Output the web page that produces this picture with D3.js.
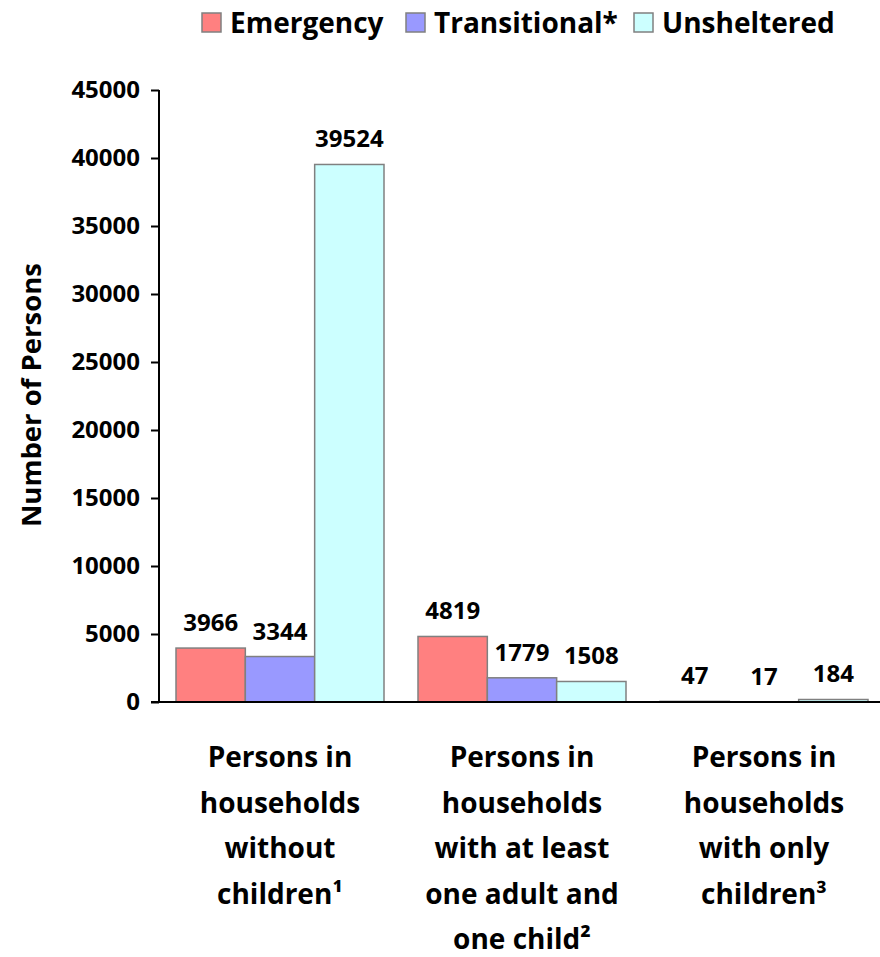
<!DOCTYPE html>
<html>
<head>
<meta charset="utf-8">
<script src="https://cdn.jsdelivr.net/npm/d3@7"></script>
<style>
  html, body { margin: 0; padding: 0; background: #fff; }
  svg { display: block; font-family: "Open Sans", "DejaVu Sans", sans-serif; font-weight: bold; }
</style>
</head>
<body>
<svg id="chart" width="880" height="957"></svg>
<script>
const categories = ["without", "withAdultChild", "onlyChildren"];
const categoryLabels = [
  ["Persons in", "households", "without", "children\u00B9"],
  ["Persons in", "households", "with at least", "one adult and", "one child\u00B2"],
  ["Persons in", "households", "with only", "children\u00B3"]
];
const seriesNames = ["Emergency", "Transitional*", "Unsheltered"];
const seriesColors = ["#FF8080", "#9999FF", "#CCFFFF"];
const emergency = [3966, 4819, 47];
const transitional = [3344, 1779, 17];
const unsheltered = [39524, 1508, 184];
const yTicks = [0, 5000, 10000, 15000, 20000, 25000, 30000, 35000, 40000, 45000];
const yTitle = "Number of Persons";

const seriesValues = [emergency, transitional, unsheltered];
const svg = d3.select("#chart");

const plotLeft = 159, plotRight = 885, plotTop = 90, plotBottom = 702;

const y = d3.scaleLinear().domain([0, 45000]).range([plotBottom, plotTop]);
const x0 = d3.scaleBand().domain(categories).range([plotLeft, plotRight]).padding(0);
const x1 = d3.scaleBand().domain(seriesNames).range([17, x0.bandwidth() - 17]).padding(0);

// Bars
const groups = svg.append("g").selectAll("g")
  .data(categories)
  .join("g")
  .attr("transform", d => `translate(${x0(d)},0)`);

groups.selectAll("rect")
  .data((d, i) => seriesNames.map((s, j) => ({ s, j, v: seriesValues[j][i] })))
  .join("rect")
  .attr("x", d => x1(d.s))
  .attr("y", d => y(d.v))
  .attr("width", x1.bandwidth())
  .attr("height", d => plotBottom - y(d.v))
  .attr("fill", d => seriesColors[d.j])
  .attr("stroke", "#808080")
  .attr("stroke-width", 1.5);

// Data labels
groups.selectAll("text.val")
  .data((d, i) => seriesNames.map((s, j) => ({ s, j, v: seriesValues[j][i] })))
  .join("text")
  .attr("class", "val")
  .attr("x", d => x1(d.s) + x1.bandwidth() / 2)
  .attr("y", d => y(d.v) - 17)
  .attr("text-anchor", "middle")
  .attr("font-size", 24)
  .attr("fill", "#000")
  .text(d => d.v);

// Y axis
const yAxis = svg.append("g")
  .attr("transform", `translate(${plotLeft},0)`)
  .call(d3.axisLeft(y).tickValues(yTicks).tickSize(8).tickPadding(11).tickFormat(d3.format("d")));
yAxis.select(".domain").attr("stroke", "#000").attr("stroke-width", 2)
  .attr("d", `M0,${plotTop}V${plotBottom}`);
yAxis.selectAll(".tick line").attr("stroke", "#000").attr("stroke-width", 2);
yAxis.selectAll(".tick text")
  .attr("font-size", 24)
  .attr("font-weight", "bold")
  .attr("font-family", "'Open Sans', sans-serif")
  .attr("fill", "#000");

// X axis baseline
const xAxis = svg.append("g")
  .attr("transform", `translate(0,${plotBottom})`)
  .call(d3.axisBottom(x0).tickSize(0).tickFormat(""));
xAxis.select(".domain").attr("stroke", "#000").attr("stroke-width", 2)
  .attr("d", `M${plotLeft - 8},0H${plotRight}`);

// Category labels
categories.forEach((c, i) => {
  const t = svg.append("text")
    .attr("text-anchor", "middle")
    .attr("font-size", 28)
    .attr("fill", "#000");
  categoryLabels[i].forEach((line, k) => {
    t.append("tspan")
      .attr("x", x0(c) + x0.bandwidth() / 2)
      .attr("y", 767 + k * 45.5)
      .text(line);
  });
});

// Y title
svg.append("text")
  .attr("transform", `translate(41,395) rotate(-90)`)
  .attr("text-anchor", "middle")
  .attr("font-size", 27.5)
  .attr("fill", "#000")
  .text(yTitle);

// Legend
const legendX = [202, 406, 634];
const legend = svg.append("g");
seriesNames.forEach((s, j) => {
  legend.append("rect")
    .attr("x", legendX[j]).attr("y", 13)
    .attr("width", 19).attr("height", 19)
    .attr("fill", seriesColors[j])
    .attr("stroke", "#808080").attr("stroke-width", 1.5);
  legend.append("text")
    .attr("x", legendX[j] + 28).attr("y", 33)
    .attr("font-size", 28)
    .attr("fill", "#000")
    .text(s);
});
</script>
</body>
</html>
